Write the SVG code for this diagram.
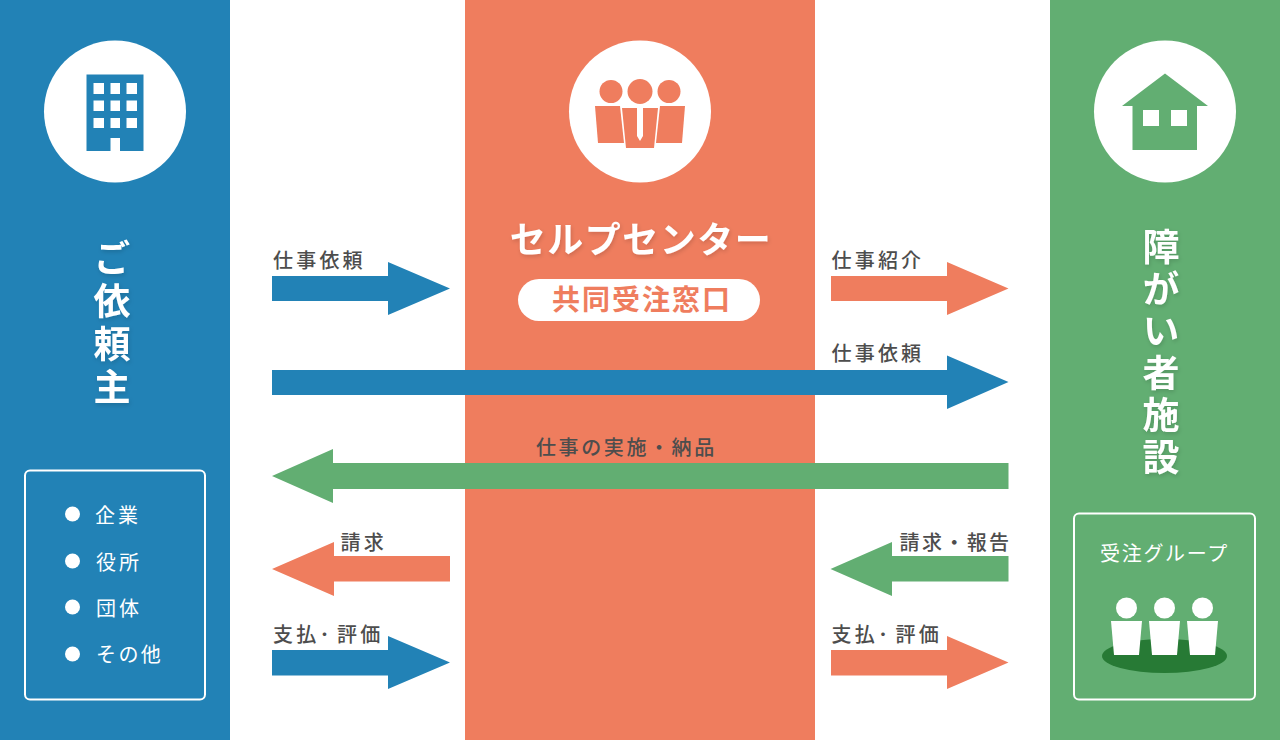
<svg xmlns="http://www.w3.org/2000/svg" width="1280" height="740" viewBox="0 0 1280 740">
<defs>
<style>
.lab{font-family:"Noto Sans CJK JP","Noto Sans",sans-serif;font-size:20px;font-weight:500;fill:#4d4d4d;letter-spacing:3.2px}
.w{font-family:"Noto Sans CJK JP","Noto Sans",sans-serif;fill:#fff;font-size:20px;font-weight:400;letter-spacing:3px}
.h{font-family:"Noto Sans CJK JP",serif;fill:#fff;font-weight:700;filter:url(#sh)}
.v{writing-mode:vertical-rl;font-size:37px}
.box{fill:none;stroke:#fff;stroke-width:2}
.blue{fill:#2282b6}.or{fill:#ef7d5e}.gr{fill:#62ae72}
</style>
<filter id="sh" x="-30%" y="-10%" width="160%" height="120%"><feDropShadow dx="1" dy="2" stdDeviation="2" flood-color="#000" flood-opacity="0.15"/></filter>
</defs>
<rect class="blue" x="0" y="0" width="230" height="740"/>
<rect class="or" x="465" y="0" width="350" height="740"/>
<rect class="gr" x="1050" y="0" width="230" height="740"/>

<g id="node-client">
<circle cx="115" cy="111.500" r="71" fill="#fff"/>
<path class="blue" fill-rule="evenodd" d="M86.500 74.500H143.500V151H120V138H110.500V151H86.500Z M93.500 83V94H104V83Z M110.500 83V94H120V83Z M126.500 83V94H137V83Z M93.500 100.500V111H104V100.500Z M110.500 100.500V111H120V100.500Z M126.500 100.500V111H137V100.500Z M93.500 118V128H104V118Z M110.500 118V128H120V118Z M126.500 118V128H137V118Z"/>
<text class="h v" x="112" y="239" letter-spacing="6">ご依頼主</text>
<rect class="box" x="25" y="470.500" width="180" height="229" rx="5"/>
<g fill="#fff"><circle cx="72.500" cy="514" r="7.500"/><circle cx="72.500" cy="561" r="7.500"/><circle cx="72.500" cy="607" r="7.500"/><circle cx="72.500" cy="654" r="7.500"/></g>
<text class="w" x="95" y="523">企業</text><text class="w" x="96" y="570">役所</text><text class="w" x="96" y="616">団体</text><text class="w" x="96" y="662" style="letter-spacing:2.400px">その他</text>
</g>

<g id="node-center">
<circle cx="640" cy="111.500" r="71" fill="#fff"/>
<g class="or">
<circle cx="611" cy="91.500" r="11.500"/><circle cx="640" cy="91.500" r="12.500"/><circle cx="669" cy="91.500" r="11.500"/>
<path d="M595 106H620L624 143H598Z"/><path d="M685 106H660L656 143H682Z"/>
<path d="M622 108H637V136L640 141L643 136V108H658L654 148H626Z"/>
</g>
<text class="h" x="641" y="253" font-size="36" letter-spacing="1.500" text-anchor="middle">セルプセンター</text>
<rect x="518" y="279" width="242" height="42" rx="21" fill="#fff"/>
<text x="642" y="310" font-family="'Noto Sans CJK JP',serif" font-size="28" font-weight="700" fill="#ef7d5e" text-anchor="middle" letter-spacing="2">共同受注窓口</text>
</g>

<g id="node-facility">
<circle cx="1165" cy="111.500" r="71" fill="#fff"/>
<path class="gr" fill-rule="evenodd" d="M1165 73.500L1208 106H1197V150H1132.500V106H1122Z M1143 110V126H1159V110Z M1171 110V126H1187V110Z"/>
<text class="h v" x="1161" y="228" letter-spacing="5">障がい者施設</text>
<rect class="box" x="1074" y="513.500" width="181" height="186" rx="5"/>
<text class="w" x="1100" y="561" style="letter-spacing:1.700px">受注グループ</text>
<ellipse cx="1164.500" cy="656" rx="62.500" ry="17" fill="#277a35"/>
<g fill="#fff">
<circle cx="1126.500" cy="608" r="10.500"/><circle cx="1164.500" cy="608" r="10.500"/><circle cx="1202.500" cy="608" r="10.500"/>
<path d="M1111 621H1142L1139 655H1114Z"/><path d="M1149 621H1180L1177 655H1152Z"/><path d="M1187 621H1218L1215 655H1190Z"/>
</g>
</g>

<g id="connectors">
<path class="blue" d="M272 276H388V262L450 288.500L388 315V301H272Z"/>
<path class="or" d="M831 276H947V262L1008.500 288.500L947 315V301H831Z"/>
<path class="blue" d="M272 370H947V355.500L1008.500 382L947 409V395H272Z"/>
<path class="gr" d="M1008.500 463H333V449L272 476L333 503V489H1008.500Z"/>
<path class="or" d="M450 556H334V542L272 569L334 596V581.500H450Z"/>
<path class="gr" d="M1008.500 556H892V542L830.500 569L892 596V581.500H1008.500Z"/>
<path class="blue" d="M272 650H388V636L450 662.500L388 689V675.500H272Z"/>
<path class="or" d="M831 650H947V636L1008.500 662.500L947 689V675.500H831Z"/>
</g>

<g id="labels">
<text class="lab" x="273" y="268">仕事依頼</text>
<text class="lab" x="831.500" y="268">仕事紹介</text>
<text class="lab" x="831.500" y="361">仕事依頼</text>
<text class="lab" x="536" y="455" style="letter-spacing:2.600px">仕事の実施・納品</text>
<text class="lab" x="340.500" y="549.500">請求</text>
<text class="lab" x="899.500" y="549.500" style="letter-spacing:2.400px">請求・報告</text>
<text class="lab" x="273" y="642">支払<tspan x="319.500">･</tspan><tspan x="337">評価</tspan></text>
<text class="lab" x="831.500" y="642">支払<tspan x="878">･</tspan><tspan x="895.500">評価</tspan></text>
</g>
</svg>
